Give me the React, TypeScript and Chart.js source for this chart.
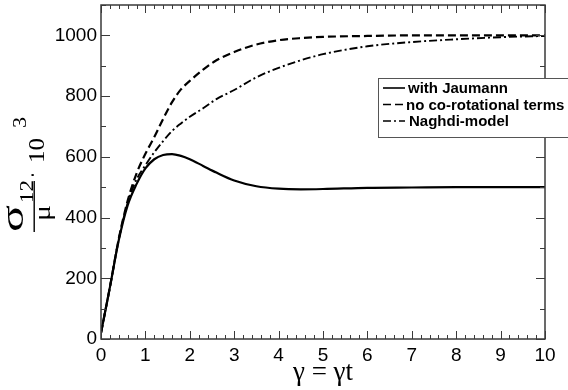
import React, { useEffect, useRef } from 'react';
import { Chart, registerables } from 'chart.js';

Chart.register(...registerables);

const xValues = [0, 0.2, 0.4, 0.6, 0.8, 1.0, 1.2, 1.4, 1.6, 1.8, 2.0, 2.3, 2.6, 3.0, 3.5, 4.0, 4.5, 5, 6, 7, 8, 9, 10];
const jaumann = [20, 170, 325, 440, 510, 562, 592, 606, 609, 603, 592, 570, 548, 522, 503, 495, 493, 494, 498, 499, 500, 500, 500];
const noCoRotational = [20, 170, 330, 455, 545, 610, 665, 725, 780, 822, 850, 887, 918, 945, 970, 984, 991, 995, 998, 1000, 1000, 1000, 1000];
const naghdi = [20, 170, 328, 448, 525, 572, 615, 652, 685, 710, 732, 760, 790, 820, 862, 893, 918, 938, 964, 978, 987, 994, 998];
const seriesLabels = ['with Jaumann', 'no co-rotational terms', 'Naghdi-model'];
const xMajorTicks = [0, 1, 2, 3, 4, 5, 6, 7, 8, 9, 10];
const yMajorTicks = [0, 200, 400, 600, 800, 1000];
const xTitle = 'γ = γt';

const SANS = '"Liberation Sans", Arial, sans-serif';
const SERIF = '"Liberation Serif", "Times New Roman", serif';

const framePlugin = {
  id: 'frameTicks',
  afterDatasetsDraw(chart: any) {
    const { ctx, chartArea: a, scales } = chart;
    const xs = scales.x;
    const ys = scales.y;
    ctx.save();
    ctx.strokeStyle = '#3a3a3a';
    ctx.lineWidth = 1.5;
    ctx.strokeRect(a.left, a.top, a.right - a.left, a.bottom - a.top);
    ctx.lineWidth = 1;
    ctx.beginPath();
    for (let i = 0; i <= 50; i++) {
      const v = i * 0.2;
      const px = Math.round(xs.getPixelForValue(v)) + 0.5;
      const major = i % 5 === 0;
      const len = major ? 8 : 4;
      ctx.moveTo(px, a.bottom);
      ctx.lineTo(px, a.bottom - len);
      ctx.moveTo(px, a.top);
      ctx.lineTo(px, a.top + len);
    }
    for (let i = 0; i <= 11; i++) {
      const v = i * 100;
      const py = Math.round(ys.getPixelForValue(v)) + 0.5;
      const major = i % 2 === 0;
      const len = major ? 9 : 5;
      ctx.moveTo(a.left, py);
      ctx.lineTo(a.left + len, py);
      ctx.moveTo(a.right, py);
      ctx.lineTo(a.right - len, py);
    }
    ctx.stroke();
    ctx.restore();
  },
  afterDraw(chart: any) {
    const { ctx } = chart;
    // legend box
    ctx.save();
    const bx = 378, by = 78, bw = 200, bh = 59;
    ctx.fillStyle = '#fff';
    ctx.fillRect(bx, by, bw, bh);
    ctx.strokeStyle = '#555';
    ctx.lineWidth = 1;
    ctx.strokeRect(bx + 0.5, by + 0.5, bw, bh);
    const rows = [88, 104.5, 121];
    const lineEnd = [405, 404, 405];
    const textStart = [408, 406, 409];
    chart.data.datasets.forEach((ds: any, i: number) => {
      const y = rows[i];
      ctx.strokeStyle = '#000';
      ctx.lineWidth = 1.6;
      ctx.setLineDash(ds.borderDash || []);
      ctx.beginPath();
      ctx.moveTo(383, y);
      ctx.lineTo(lineEnd[i], y);
      ctx.stroke();
      ctx.setLineDash([]);
      ctx.fillStyle = '#000';
      ctx.font = 'bold 15px ' + SANS;
      ctx.textBaseline = 'middle';
      ctx.textAlign = 'left';
      ctx.fillText(ds.label, textStart[i], y + 1);
    });
    ctx.restore();

    // y-axis title: sigma_12 / mu * 10^3, rotated (origin at screen y=232)
    ctx.save();
    ctx.fillStyle = '#000';
    ctx.textBaseline = 'alphabetic';
    ctx.textAlign = 'left';
    const piece = (t: string, size: number, u: number, v: number, width: number) => {
      ctx.font = size + 'px ' + SERIF;
      const w = ctx.measureText(t).width;
      const s = width / w;
      ctx.setTransform(0, -s, 1, 0, v, 232 - u);
      ctx.fillText(t, 0, 0);
    };
    piece('σ', 32, 0, 23, 27);
    piece('12', 18, 29, 33, 23);
    piece('μ', 24, 11, 50, 16);
    piece('·', 24, 54, 40, 6);
    piece('10', 24, 69, 44, 25);
    piece('3', 18, 104, 26, 11);
    ctx.setTransform(1, 0, 0, 1, 0, 0);
    ctx.fillRect(33.5, 181, 1.4, 51);
    ctx.restore();
  },
};

export default function App() {
  const ref = useRef<HTMLCanvasElement | null>(null);
  useEffect(() => {
    if (!ref.current) return;
    const mk = (vals: number[]) => xValues.map((x, i) => ({ x, y: vals[i] }));
    const chart = new Chart(ref.current, {
      type: 'scatter',
      data: {
        datasets: [
          { label: seriesLabels[0], data: mk(jaumann), borderColor: '#000', borderWidth: 2.2, borderDash: [], showLine: true, pointRadius: 0, cubicInterpolationMode: 'monotone' },
          { label: seriesLabels[1], data: mk(noCoRotational), borderColor: '#000', borderWidth: 2.2, borderDash: [8, 4], showLine: true, pointRadius: 0, cubicInterpolationMode: 'monotone' },
          { label: seriesLabels[2], data: mk(naghdi), borderColor: '#000', borderWidth: 1.9, borderDash: [8, 3, 2, 3], showLine: true, pointRadius: 0, cubicInterpolationMode: 'monotone' },
        ] as any,
      },
      options: {
        animation: false,
        responsive: false,
        layout: { padding: { top: 5, right: 23, left: 0, bottom: 0 } },
        plugins: { legend: { display: false }, tooltip: { enabled: false } },
        scales: {
          x: {
            type: 'linear', min: 0, max: 10,
            grid: { display: false, drawTicks: false },
            border: { display: false },
            afterFit: (s: any) => { s.height = 51; s.paddingLeft = 0; s.paddingRight = 0; },
            afterBuildTicks: (s: any) => { s.ticks = xMajorTicks.map((v) => ({ value: v })); },
            ticks: { color: '#000', font: { family: SANS, size: 19 }, padding: 5, maxRotation: 0, autoSkip: false, callback: (v: any) => String(v) },
            title: { display: true, text: xTitle, color: '#000', font: { family: SERIF, size: 27 }, padding: { top: 0, bottom: 1 } },
          },
          y: {
            type: 'linear', min: 0, max: 1100,
            grid: { display: false, drawTicks: false },
            border: { display: false },
            afterFit: (s: any) => { s.width = 101; s.paddingTop = 0; s.paddingBottom = 0; },
            afterBuildTicks: (s: any) => { s.ticks = yMajorTicks.map((v) => ({ value: v })); },
            ticks: { color: '#000', font: { family: SANS, size: 19 }, padding: 4, callback: (v: any) => String(v) },
          },
        },
      } as any,
      plugins: [framePlugin],
    });
    return () => chart.destroy();
  }, []);
  return (
    <div style={{ position: 'absolute', left: 0, top: 0, width: 568, height: 390, background: '#fff' }}>
      <canvas ref={ref} width={568} height={390} />
    </div>
  );
}
